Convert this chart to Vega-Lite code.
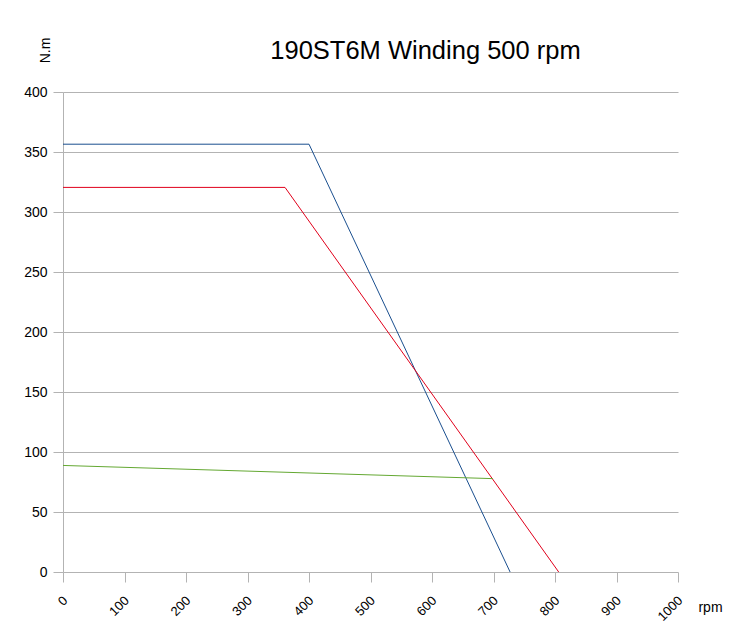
{
  "$schema": "https://vega.github.io/schema/vega-lite/v6.json",
  "autosize": "none",
  "width": 615,
  "height": 480,
  "padding": {"left": 63, "top": 92, "right": 69, "bottom": 53},
  "background": "white",
  "title": {
    "text": "190ST6M Winding 500 rpm",
    "font": "Liberation Sans",
    "fontSize": 25.5,
    "fontWeight": "normal",
    "color": "#000000",
    "anchor": "middle",
    "frame": "group",
    "dx": 55,
    "baseline": "alphabetic",
    "offset": -47
  },
  "data": {
    "values": [
      {"series": "A", "rpm": 0, "torque": 356.5},
      {"series": "A", "rpm": 400, "torque": 356.5},
      {"series": "A", "rpm": 727, "torque": 0},
      {"series": "B", "rpm": 0, "torque": 320.5},
      {"series": "B", "rpm": 361, "torque": 320.5},
      {"series": "B", "rpm": 806, "torque": 0},
      {"series": "C", "rpm": 0, "torque": 88.8},
      {"series": "C", "rpm": 699, "torque": 77.8}
    ]
  },
  "mark": {"type": "line", "strokeWidth": 1},
  "encoding": {
    "x": {
      "field": "rpm",
      "type": "quantitative",
      "scale": {"domain": [0, 1000], "nice": false, "zero": true},
      "axis": {
        "values": [0, 100, 200, 300, 400, 500, 600, 700, 800, 900, 1000],
        "format": "d",
        "grid": false,
        "domain": false,
        "tickColor": "#b3b3b3",
        "tickSize": 10,
        "labelAngle": -45,
        "labelAlign": "right",
        "labelBaseline": "middle",
        "labelFont": "Liberation Sans",
        "labelFontSize": 13,
        "labelColor": "#000000",
        "labelPadding": 16,
        "labelOffset": 2,
        "title": "rpm",
        "titleFont": "Liberation Sans",
        "titleFontSize": 14,
        "titleFontWeight": "normal",
        "titleColor": "#000000",
        "titleAlign": "center",
        "titleBaseline": "middle",
        "titleAngle": 0,
        "titleX": 647,
        "titleY": 35
      }
    },
    "y": {
      "field": "torque",
      "type": "quantitative",
      "scale": {"domain": [0, 400], "nice": false},
      "axis": {
        "values": [0, 50, 100, 150, 200, 250, 300, 350, 400],
        "grid": true,
        "gridColor": "#b3b3b3",
        "gridWidth": 1,
        "domain": true,
        "domainColor": "#b3b3b3",
        "tickColor": "#b3b3b3",
        "tickSize": 10,
        "labelFont": "Liberation Sans",
        "labelFontSize": 14,
        "labelColor": "#000000",
        "labelPadding": 6,
        "title": "N.m",
        "titleFont": "Liberation Sans",
        "titleFontSize": 14,
        "titleFontWeight": "normal",
        "titleColor": "#000000",
        "titleAngle": -90,
        "titleAlign": "center",
        "titleBaseline": "middle",
        "titleX": -18,
        "titleY": -42
      }
    },
    "color": {
      "field": "series",
      "type": "nominal",
      "scale": {"domain": ["A", "B", "C"], "range": ["#1a4f8f", "#e0001b", "#64a832"]},
      "legend": null
    }
  },
  "config": {
    "view": {"stroke": null}
  }
}
